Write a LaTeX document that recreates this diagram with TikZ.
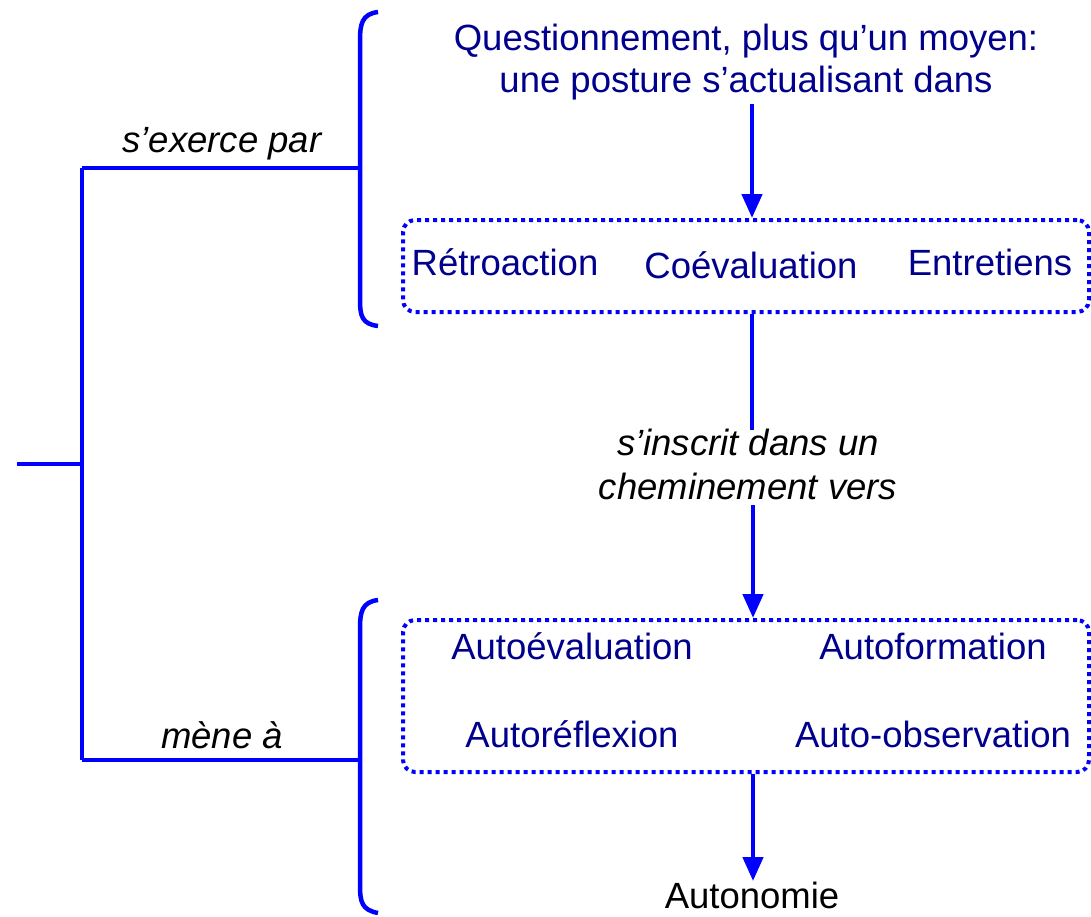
\documentclass[tikz,border=0pt]{standalone}
\usepackage{fontspec}
\setmainfont{Liberation Sans}
\usetikzlibrary{arrows.meta}
\definecolor{lineblue}{RGB}{0,0,255}
\definecolor{navytext}{RGB}{0,0,140}
\begin{document}
\begin{tikzpicture}[x=1pt,y=-1pt,
  line/.style={draw=lineblue,line width=4.5pt},
  arr/.style={line, -{Triangle[length=24pt,width=20pt]}},
  dotbox/.style={draw=lineblue,line width=4pt,dash pattern=on 4pt off 4pt,rounded corners=12pt,minimum width=686pt,inner sep=0pt},
  navy/.style={text=navytext,font=\fontsize{36.5}{42}\selectfont,inner sep=0pt,align=center},
  lbl/.style={text=black,font=\fontsize{36.5}{44}\selectfont\itshape,inner sep=0pt,align=center},
  blk/.style={text=black,font=\fontsize{36.5}{42}\selectfont,inner sep=0pt}]
\useasboundingbox (0,0) rectangle (1091,916);
% tree
\coordinate (root) at (17,464);
\coordinate (j) at (82,464);
\coordinate (jt) at (82,168);
\coordinate (jb) at (82,760);
\coordinate (bt) at (360,168);
\coordinate (bb) at (360,760);
\draw[line] (root) -- (j);
\draw[line] (jt) -- (jb);
\draw[line] (jt) -- (bt);
\draw[line] (jb) -- (bb);
% brackets
\draw[line] (378,12) .. controls (362,14) and (360,24) .. (360,40) -- (360,300) .. controls (360,316) and (362,324) .. (378,326);
\draw[line] (378,600) .. controls (362,602) and (360,612) .. (360,628) -- (360,886) .. controls (360,902) and (362,910) .. (378,913);
% labels
\node[lbl,anchor=base] (exerce) at (222,152) {s’exerce par};
\node[lbl,anchor=base] (mene) at (222,748) {mène à};
% top text
\node[navy,anchor=north] (q) at (746,24) {Questionnement, plus qu’un moyen:\\une posture s’actualisant dans};
% box 1
\node[dotbox,minimum height=92pt] (box1) at (746,266) {};
\node[navy,anchor=base] (retro) at (505,275) {Rétroaction};
\node[navy,anchor=base] (coeval) at (751,278) {Coévaluation};
\node[navy,anchor=base] (entre) at (990,275) {Entretiens};
% middle label
\node[lbl,anchor=north] (inscrit) at (748,429) {s’inscrit dans un\\cheminement vers};
% box 2
\node[dotbox,minimum height=152pt] (box2) at (746,696) {};
\node[navy,anchor=base] (aeval) at (572,659) {Autoévaluation};
\node[navy,anchor=base] (aform) at (933,659) {Autoformation};
\node[navy,anchor=base] (arefl) at (572,747) {Autoréflexion};
\node[navy,anchor=base] (aobs) at (933,747) {Auto-observation};
% autonomie
\node[blk,anchor=base] (auto) at (752,908) {Autonomie};
% arrows
\draw[arr] (752,104) -- (box1.north -| 752,0);
\draw[line] (box1.south -| 752,0) -- (752,430);
\draw[arr] (753,505) -- (box2.north -| 753,0);
\draw[arr] (box2.south -| 753,0) -- (753,881);
\end{tikzpicture}
\end{document}
